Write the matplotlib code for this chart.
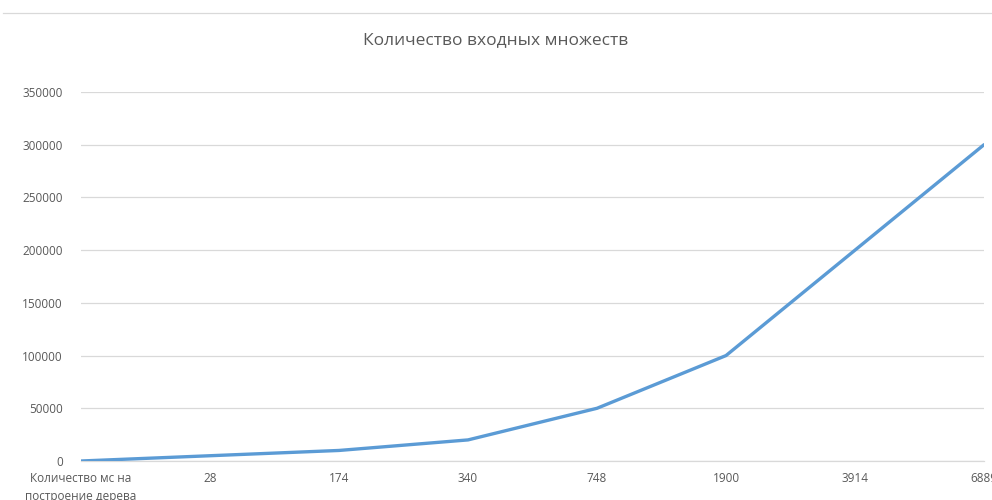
import matplotlib
matplotlib.use("Agg")
import matplotlib.pyplot as plt
from matplotlib.lines import Line2D

categories = ["Количество мс на\nпостроение дерева", "28", "174", "340", "748", "1900", "3914", "6889"]
values = [0, 5000, 10000, 20000, 50000, 100000, 200000, 300000]
y_ticks = [0, 50000, 100000, 150000, 200000, 250000, 300000, 350000]

TEXT = "#595959"
GRID = "#D9D9D9"
LINE = "#5B9BD5"

plt.rcParams["font.family"] = ["Open Sans", "DejaVu Sans"]

fig = plt.figure(figsize=(9.92, 5.0), dpi=100)
ax = fig.add_axes([81 / 992, 1 - 461 / 500, (984 - 81) / 992, (461 - 92) / 500])

x = list(range(len(categories)))
ax.plot(x, values, color=LINE, linewidth=2.4, solid_capstyle="round", zorder=3)

ax.set_xlim(0, len(categories) - 1)
ax.set_ylim(0, 350000)
ax.set_yticks(y_ticks)
ax.set_yticklabels([str(v) for v in y_ticks])
ax.set_xticks(x)
ax.set_xticklabels(categories, linespacing=1.45)

ax.grid(axis="y", color=GRID, linewidth=0.9)
ax.set_axisbelow(True)
for side in ["top", "right", "left"]:
  ax.spines[side].set_visible(False)
ax.spines["bottom"].set_color(GRID)
ax.spines["bottom"].set_linewidth(0.9)
ax.tick_params(axis="both", length=0, colors=TEXT, labelsize=8.5)
ax.tick_params(axis="y", pad=13)
ax.tick_params(axis="x", pad=8)

fig.text(0.5, 1 - 40 / 500, "Количество входных множеств", ha="center", va="center",
         fontsize=12.5, color=TEXT)

# chart border at the top
fig.add_artist(Line2D([3 / 992, 1.0], [1 - 13 / 500, 1 - 13 / 500],
                      color=GRID, linewidth=0.9, transform=fig.transFigure))

fig.savefig("out.png", dpi=100)
